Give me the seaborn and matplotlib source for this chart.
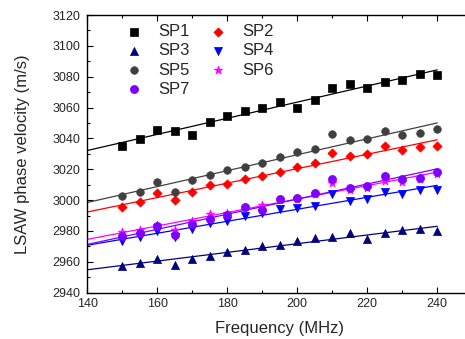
import numpy as np
import pandas as pd
import matplotlib
matplotlib.use("Agg")
import matplotlib.pyplot as plt
import seaborn as sns
from matplotlib.ticker import MultipleLocator

freq = [150, 155, 160, 165, 170, 175, 180, 185, 190, 195, 200, 205, 210, 215, 220, 225, 230, 235, 240]
sp1 = [3035, 3039.5, 3045.5, 3045, 3042.5, 3050.5, 3054.5, 3058, 3060, 3063.5, 3060, 3065, 3073, 3075.5, 3072.5, 3076.5, 3078, 3082, 3081]
sp2 = [2995.5, 2998.5, 3004.5, 3000, 3005, 3010, 3010.5, 3014, 3015.5, 3018, 3021.5, 3024, 3030.5, 3028.5, 3030, 3035, 3032.5, 3034.5, 3035]
sp3 = [2957.5, 2959, 2962, 2958, 2962, 2964, 2966.5, 2968, 2970, 2971, 2973.5, 2975.5, 2976, 2979, 2974.5, 2979, 2980.5, 2981, 2980]
sp4 = [2973.5, 2976, 2980, 2976, 2981, 2985, 2986.5, 2989.5, 2991.5, 2994.5, 2995, 2996, 3004, 2999.5, 3000.5, 3005, 3004, 3006.5, 3006.5]
sp5 = [3003, 3005, 3012, 3005.5, 3013, 3016, 3019.5, 3021.5, 3024, 3028, 3031, 3033, 3043, 3039, 3039.5, 3045, 3042.5, 3043.5, 3046]
sp6 = [2979.5, 2980.5, 2984, 2980.5, 2986.5, 2991, 2991.5, 2995.5, 2997, 3000, 3001, 3004, 3011, 3006.5, 3008, 3012.5, 3012, 3014, 3017]
sp7 = [2976.5, 2979, 2983, 2977.5, 2984.5, 2988, 2990.5, 2995.5, 2993.5, 3000.5, 3001.5, 3004.5, 3013.5, 3008, 3009, 3015.5, 3013.5, 3014.5, 3018]

names = ["SP1", "SP2", "SP3", "SP4", "SP5", "SP6", "SP7"]
series = [sp1, sp2, sp3, sp4, sp5, sp6, sp7]
colors = {"SP1": "#000000", "SP2": "#FF0000", "SP3": "#000080", "SP4": "#0000FF",
          "SP5": "#404040", "SP6": "#FF00FF", "SP7": "#8000FF"}
markers = {"SP1": "s", "SP2": "D", "SP3": "^", "SP4": "v", "SP5": "o", "SP6": "*", "SP7": "o"}
sizes = {"SP1": 26, "SP2": 22, "SP3": 34, "SP4": 34, "SP5": 30, "SP6": 40, "SP7": 34}

sns.set_style("ticks")
plt.rcParams['font.family'] = ['Liberation Sans', 'DejaVu Sans']

fig = plt.figure(figsize=(4.65, 3.39), dpi=100)
ax = fig.add_axes([87.3/465, 46.3/339, (472.3-87.3)/465, (324-46.3)/339])

# fit lines
xfit = np.array([140.0, 240.0])
for n, s in zip(names, series):
    k, b = np.polyfit(freq, s, 1)
    fit = pd.DataFrame({"x": xfit, "y": k*xfit + b})
    sns.lineplot(data=fit, x="x", y="y", color=colors[n], lw=0.9, ax=ax, legend=False)

handles = {}
for n, s in zip(names, series):
    df = pd.DataFrame({"f": freq, "v": s})
    sns.scatterplot(data=df, x="f", y="v", marker=markers[n], s=sizes[n],
                    color=colors[n], edgecolor=colors[n], linewidth=0.5, ax=ax, zorder=3)
    handles[n] = ax.collections[-1]

order = ["SP1", "SP3", "SP5", "SP7", "SP2", "SP4", "SP6"]
ax.legend([handles[n] for n in order], order, ncol=2, frameon=False,
          loc="upper left", bbox_to_anchor=(0.074, 1.003), fontsize=12,
          handlelength=1.0, handletextpad=0.94, columnspacing=1.24, labelspacing=0.25,
          markerscale=1.0, borderaxespad=0.2)

ax.set_xlim(140, 250)
ax.set_ylim(2940, 3120)
ax.xaxis.set_major_locator(MultipleLocator(20))
ax.xaxis.set_minor_locator(MultipleLocator(10))
ax.yaxis.set_major_locator(MultipleLocator(20))
ax.yaxis.set_minor_locator(MultipleLocator(10))
ax.tick_params(which="both", direction="in", top=True, right=True, labelsize=9, color="black")
ax.tick_params(which="major", length=4, width=0.8)
ax.tick_params(which="minor", length=2.5, width=0.8)
ax.tick_params(axis="y", which="major", pad=5)
for sp in ax.spines.values():
    sp.set_linewidth(1.0)
    sp.set_color("black")

ax.set_xlabel("Frequency (MHz)", fontsize=12, labelpad=8)
ax.set_ylabel("LSAW phase velocity (m/s)", fontsize=12, labelpad=16)

fig.savefig("out.png", dpi=100)
